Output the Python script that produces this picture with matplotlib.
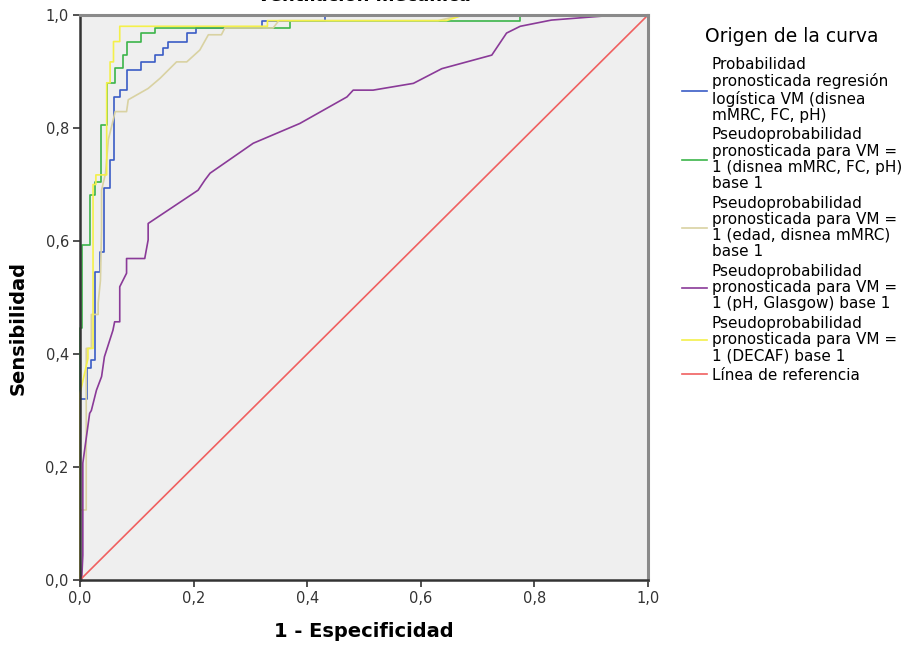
import matplotlib
matplotlib.use("Agg")
import matplotlib.pyplot as plt

# ROC curves (corner points: 1 - especificidad, sensibilidad)
fpr_reg = [0, 0, 0.012, 0.012, 0.02, 0.02, 0.026, 0.026, 0.035, 0.035, 0.042, 0.042,
           0.053, 0.053, 0.060, 0.060, 0.070, 0.070, 0.082, 0.082, 0.108, 0.108,
           0.132, 0.132, 0.146, 0.146, 0.155, 0.155, 0.188, 0.188, 0.205, 0.205,
           0.32, 0.32, 0.431, 0.431, 1.0]
tpr_reg = [0, 0.32, 0.32, 0.375, 0.375, 0.39, 0.39, 0.546, 0.546, 0.581, 0.581, 0.693,
           0.693, 0.743, 0.743, 0.855, 0.855, 0.867, 0.867, 0.903, 0.903, 0.917,
           0.917, 0.929, 0.929, 0.941, 0.941, 0.953, 0.953, 0.968, 0.968, 0.977,
           0.977, 0.99, 0.99, 1.0, 1.0]

fpr_fc = [0, 0, 0.003, 0.003, 0.018, 0.018, 0.027, 0.027, 0.037, 0.037, 0.047, 0.047,
          0.062, 0.062, 0.076, 0.076, 0.082, 0.082, 0.108, 0.108, 0.132, 0.132,
          0.37, 0.37, 0.775, 0.775, 1.0]
tpr_fc = [0, 0.446, 0.446, 0.593, 0.593, 0.681, 0.681, 0.704, 0.704, 0.805, 0.805, 0.88,
          0.88, 0.906, 0.906, 0.929, 0.929, 0.953, 0.953, 0.968, 0.968, 0.977,
          0.977, 0.99, 0.99, 1.0, 1.0]

fpr_edad = [0, 0, 0.011, 0.011, 0.02, 0.02, 0.032, 0.032, 0.036, 0.038, 0.038, 0.045,
            0.05, 0.055, 0.062, 0.082, 0.085, 0.120, 0.141, 0.170, 0.188, 0.211,
            0.226, 0.249, 0.255, 0.34, 0.35, 0.63, 0.675, 1.0]
tpr_edad = [0, 0.124, 0.124, 0.41, 0.41, 0.47, 0.47, 0.49, 0.53, 0.62, 0.69, 0.72,
            0.78, 0.80, 0.829, 0.829, 0.850, 0.870, 0.888, 0.917, 0.917, 0.938,
            0.965, 0.965, 0.977, 0.977, 0.99, 0.99, 1.0, 1.0]

fpr_ph = [0, 0.003, 0.005, 0.005, 0.017, 0.02, 0.029, 0.038, 0.043, 0.058, 0.061, 0.070,
          0.070, 0.082, 0.082, 0.114, 0.120, 0.120, 0.208, 0.220, 0.229, 0.305, 0.387,
          0.470, 0.481, 0.516, 0.587, 0.637, 0.725, 0.751, 0.775, 0.830, 0.945, 1.0]
tpr_ph = [0, 0.0, 0.044, 0.207, 0.295, 0.30, 0.336, 0.36, 0.395, 0.442, 0.457, 0.457,
          0.519, 0.543, 0.569, 0.569, 0.602, 0.631, 0.690, 0.708, 0.720, 0.773, 0.808,
          0.855, 0.867, 0.867, 0.879, 0.905, 0.929, 0.968, 0.980, 0.991, 1.0, 1.0]

fpr_decaf = [0, 0, 0.014, 0.014, 0.023, 0.023, 0.028, 0.028, 0.047, 0.047, 0.053, 0.053,
             0.059, 0.059, 0.070, 0.070, 0.33, 0.33, 0.645, 0.675, 1.0]
tpr_decaf = [0, 0.33, 0.392, 0.41, 0.41, 0.70, 0.70, 0.717, 0.717, 0.88, 0.88, 0.917,
             0.917, 0.953, 0.953, 0.98, 0.98, 0.99, 0.99, 1.0, 1.0]

ref_x = [0, 1]
ref_y = [0, 1]

labels = [
    "Probabilidad\npronosticada regresión\nlogística VM (disnea\nmMRC, FC, pH)",
    "Pseudoprobabilidad\npronosticada para VM =\n1 (disnea mMRC, FC, pH)\nbase 1",
    "Pseudoprobabilidad\npronosticada para VM =\n1 (edad, disnea mMRC)\nbase 1",
    "Pseudoprobabilidad\npronosticada para VM =\n1 (pH, Glasgow) base 1",
    "Pseudoprobabilidad\npronosticada para VM =\n1 (DECAF) base 1",
    "Línea de referencia",
]
colores = ["#3a5cc6", "#3cb54a", "#d9d2a2", "#8a3a98", "#f4f04a", "#f06060"]

fig = plt.figure(figsize=(9.11, 6.49), dpi=100)
ax = fig.add_axes([0.0878, 0.1063, 0.6235, 0.8706])
ax.set_facecolor("#efefef")

curvas = [(fpr_reg, tpr_reg), (fpr_fc, tpr_fc), (fpr_edad, tpr_edad),
          (fpr_ph, tpr_ph), (fpr_decaf, tpr_decaf), (ref_x, ref_y)]
for (x, y), c, lab in zip(curvas, colores, labels):
    ax.plot(x, y, color=c, lw=1.2, label=lab, clip_on=False)

ax.set_xlim(0, 1)
ax.set_ylim(0, 1)
ticks = [0, 0.2, 0.4, 0.6, 0.8, 1.0]
ax.set_xticks(ticks)
ax.set_yticks(ticks)
ax.set_xticklabels([("%.1f" % t).replace(".", ",") for t in ticks])
ax.set_yticklabels([("%.1f" % t).replace(".", ",") for t in ticks])
ax.tick_params(length=5, width=1.2, color="#333333", labelsize=10.5,
               labelcolor="#333333", pad=3)

for s in ["left", "bottom"]:
    ax.spines[s].set_color("#333333")
    ax.spines[s].set_linewidth(1.8)
for s in ["top", "right"]:
    ax.spines[s].set_color("#8a8a8a")
    ax.spines[s].set_linewidth(2.2)

ax.set_xlabel("1 - Especificidad", fontsize=14, fontweight="bold")
ax.set_ylabel("Sensibilidad", fontsize=14, fontweight="bold")
ax.xaxis.set_label_coords(0.5, -0.074)
ax.yaxis.set_label_coords(-0.092, 0.446)

fig.text(0.4, 0.999, "ventilación mecánica", ha="center", va="baseline",
         fontsize=13, fontweight="bold")

leg = fig.legend(loc="upper left", bbox_to_anchor=(0.742, 0.968), frameon=False,
                 fontsize=11, title="Origen de la curva", title_fontsize=13.5,
                 handlelength=1.6, handletextpad=0.35, labelspacing=0.3,
                 borderaxespad=0)
for t in leg.get_texts():
    t.set_linespacing(1.1)
leg._legend_box.sep = 8

fig.savefig("out.png", dpi=100)
